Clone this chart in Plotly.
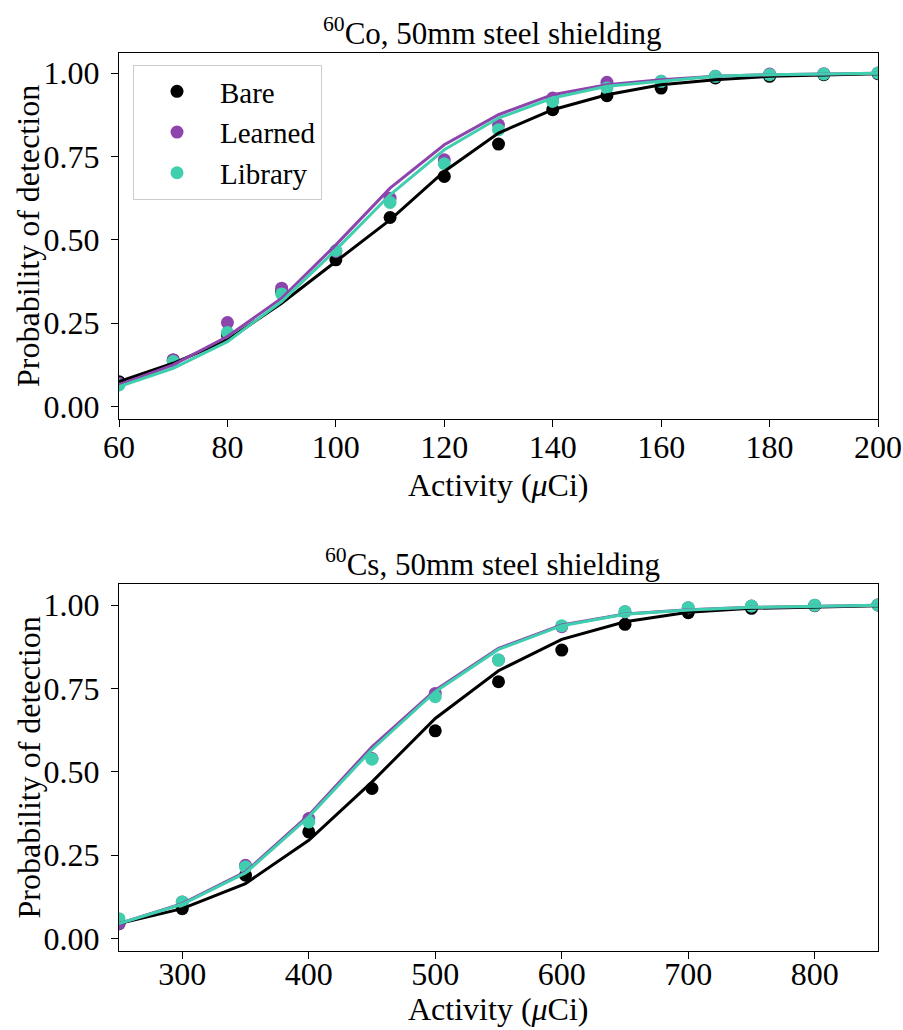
import plotly.graph_objects as go

# ---------------- data ----------------
co_activity = [60, 70, 80, 90, 100, 110, 120, 130, 140, 150, 160, 170, 180, 190, 200]
co_bare_pts = [0.075, 0.14, 0.215, 0.345, 0.44, 0.567, 0.69, 0.787, 0.89, 0.932, 0.955, 0.985, 0.99, 0.995, 0.998]
co_learned_pts = [0.07, 0.14, 0.252, 0.355, 0.465, 0.625, 0.74, 0.845, 0.925, 0.972, 0.975, 0.99, 0.997, 0.998, 1.0]
co_library_pts = [0.065, 0.135, 0.222, 0.338, 0.468, 0.612, 0.728, 0.83, 0.915, 0.955, 0.975, 0.99, 0.995, 0.997, 1.0]
co_bare_fit = [0.075, 0.13, 0.2, 0.31, 0.435, 0.56, 0.705, 0.82, 0.89, 0.935, 0.965, 0.98, 0.99, 0.995, 0.998]
co_learned_fit = [0.065, 0.125, 0.21, 0.325, 0.485, 0.655, 0.785, 0.875, 0.935, 0.965, 0.98, 0.99, 0.995, 0.998, 0.999]
co_library_fit = [0.06, 0.115, 0.195, 0.315, 0.47, 0.635, 0.77, 0.865, 0.925, 0.96, 0.975, 0.99, 0.995, 0.997, 0.999]

cs_activity = [250, 300, 350, 400, 450, 500, 550, 600, 650, 700, 750, 800, 850]
cs_bare_pts = [0.045, 0.09, 0.19, 0.32, 0.45, 0.623, 0.77, 0.865, 0.942, 0.977, 0.99, 0.998, 1.0]
cs_learned_pts = [0.045, 0.11, 0.22, 0.36, 0.54, 0.735, 0.835, 0.935, 0.98, 0.992, 0.997, 0.999, 1.0]
cs_library_pts = [0.06, 0.11, 0.215, 0.35, 0.538, 0.725, 0.835, 0.938, 0.98, 0.992, 0.997, 0.999, 1.0]
cs_bare_fit = [0.045, 0.09, 0.165, 0.295, 0.47, 0.66, 0.803, 0.897, 0.95, 0.978, 0.99, 0.995, 0.998]
cs_learned_fit = [0.045, 0.105, 0.2, 0.37, 0.575, 0.745, 0.87, 0.94, 0.973, 0.986, 0.993, 0.997, 0.999]
cs_library_fit = [0.045, 0.103, 0.197, 0.365, 0.567, 0.74, 0.867, 0.938, 0.972, 0.985, 0.993, 0.997, 0.999]

series_names = ["Bare", "Learned", "Library"]
series_colors = ["#000000", "#8e44ad", "#40cfae"]
y_tickvals = [0.0, 0.25, 0.5, 0.75, 1.0]
co_xticks = [60, 80, 100, 120, 140, 160, 180, 200]
cs_xticks = [300, 400, 500, 600, 700, 800]

titles = ["<sup>60</sup>Co, 50mm steel shielding", "<sup>60</sup>Cs, 50mm steel shielding"]
xlabel = "Activity (<i>μ</i>Ci)"
ylabel = "Probability of detection"

FONT = "Liberation Serif"
FS_TICK = 32
FS_LABEL = 32
FS_TITLE = 31
FS_LEGEND = 29

fig = go.Figure()

panels = [
    ("x", "y", co_activity, [co_bare_pts, co_learned_pts, co_library_pts],
     [co_bare_fit, co_learned_fit, co_library_fit], True),
    ("x2", "y2", cs_activity, [cs_bare_pts, cs_learned_pts, cs_library_pts],
     [cs_bare_fit, cs_learned_fit, cs_library_fit], False),
]

for xa, ya, xs, pts, fits, show in panels:
    for name, col, p in zip(series_names, series_colors, pts):
        fig.add_trace(go.Scatter(
            x=xs, y=p, mode="markers", name=name, xaxis=xa, yaxis=ya,
            legendgroup=name,
            marker=dict(color=col, size=13, line=dict(width=0)),
            showlegend=show, cliponaxis=True))
    for name, col, f in zip(series_names, series_colors, fits):
        fig.add_trace(go.Scatter(
            x=xs, y=f, mode="lines", name=name + " fit", xaxis=xa, yaxis=ya,
            legendgroup=name,
            line=dict(color=col, width=3), showlegend=False, cliponaxis=True))

# invisible traces so the label-only overlay x axes are drawn
fig.add_trace(go.Scatter(x=[co_activity[0]], y=[co_bare_pts[0]], xaxis="x3", yaxis="y",
                         mode="markers", marker=dict(opacity=0), showlegend=False,
                         hoverinfo="skip"))
fig.add_trace(go.Scatter(x=[cs_activity[0]], y=[cs_bare_pts[0]], xaxis="x4", yaxis="y2",
                         mode="markers", marker=dict(opacity=0), showlegend=False,
                         hoverinfo="skip"))

W, H = 903, 1030
x_dom = [119 / W, 878 / W]
top_dom = [1 - 419 / H, 1 - 53 / H]
bot_dom = [1 - 951 / H, 1 - 584 / H]
x_mid = 0.5 * (x_dom[0] + x_dom[1])

axis_common = dict(
    showline=True, linecolor="black", linewidth=1.3, mirror=True,
    ticks="outside", ticklen=7, tickwidth=1.3, tickcolor="black",
    showgrid=False, zeroline=False, automargin=False,
    tickfont=dict(family=FONT, size=FS_TICK, color="black"),
)
label_axis = dict(
    showline=False, ticks="", showgrid=False, zeroline=False, automargin=False,
    tickfont=dict(family=FONT, size=FS_TICK, color="black"),
)

fig.update_layout(
    width=W, height=H,
    margin=dict(l=0, r=0, t=0, b=0),
    paper_bgcolor="white", plot_bgcolor="white",
    font=dict(family=FONT, size=FS_TICK, color="black"),
    xaxis=dict(domain=x_dom, anchor="y", range=[60, 200], tickvals=co_xticks,
               showticklabels=False, **axis_common),
    xaxis3=dict(domain=x_dom, anchor="free", position=1 - 425 / H, overlaying="x",
                range=[60, 200], tickvals=co_xticks, **label_axis),
    yaxis=dict(domain=top_dom, anchor="x", range=[-0.037, 1.06], tickvals=y_tickvals,
               tickformat=".2f", ticklabelstandoff=5, **axis_common),
    xaxis2=dict(domain=x_dom, anchor="y2", range=[250, 850], tickvals=cs_xticks,
                showticklabels=False, **axis_common),
    xaxis4=dict(domain=x_dom, anchor="free", position=1 - 952 / H, overlaying="x2",
                range=[250, 850], tickvals=cs_xticks, **label_axis),
    yaxis2=dict(domain=bot_dom, anchor="x2", range=[-0.037, 1.063], tickvals=y_tickvals,
                tickformat=".2f", ticklabelstandoff=5, **axis_common),
    legend=dict(
        x=133 / W, y=1 - 65 / H, xref="paper", yref="paper",
        xanchor="left", yanchor="top",
        bgcolor="rgba(255,255,255,0.8)", bordercolor="#cccccc", borderwidth=1,
        font=dict(family=FONT, size=FS_LEGEND, color="black"),
        itemwidth=76, tracegroupgap=2, traceorder="normal",
    ),
    showlegend=True,
)

annotations = []
# panel titles
for t, yc in zip(titles, [32, 562]):
    annotations.append(dict(text=t, x=492 / W, y=1 - yc / H, xref="paper", yref="paper",
                            xanchor="center", yanchor="middle", showarrow=False,
                            font=dict(family=FONT, size=FS_TITLE, color="black")))
# x-axis titles
annotations.append(dict(text=xlabel, x=x_mid, y=1 - 485 / H, xref="paper", yref="paper",
                        xanchor="center", yanchor="middle", showarrow=False,
                        font=dict(family=FONT, size=FS_LABEL, color="black")))
annotations.append(dict(text=xlabel, x=x_mid, y=1 / H, xref="paper", yref="paper",
                        xanchor="center", yanchor="bottom", showarrow=False,
                        font=dict(family=FONT, size=FS_LABEL, color="black")))
# y-axis titles
for dom in [top_dom, bot_dom]:
    annotations.append(dict(text=ylabel, x=28 / W, y=0.5 * (dom[0] + dom[1]),
                            xref="paper", yref="paper", xanchor="center", yanchor="middle",
                            textangle=-90, showarrow=False,
                            font=dict(family=FONT, size=FS_LABEL, color="black")))
fig.update_layout(annotations=annotations)

fig.write_html("out.html")
